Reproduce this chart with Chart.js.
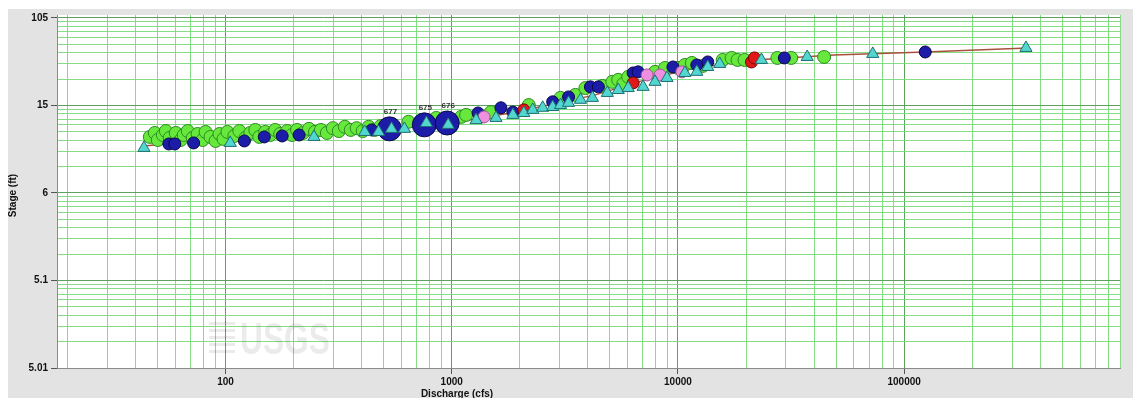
<!DOCTYPE html>
<html>
<head>
<meta charset="utf-8">
<script src="https://cdn.jsdelivr.net/npm/chart.js@4.4.1/dist/chart.umd.min.js"></script>
<style>
  html, body { margin: 0; padding: 0; background: #fff; }
  canvas { display: block; }
</style>
</head>
<body>
<canvas id="rating" width="1133" height="398"></canvas>
<script>
// stage axis is log of (stage - offset)
const STAGE_OFFSET = 5;

// [discharge (cfs), stage (ft)]
const greenMeas = [
    [46.3, 9.37], [48.7, 9.85], [50.2, 9.03], [52.9, 9.60], [54.5, 10.1], [56.7, 9.25],
    [60.3, 9.85], [63.4, 9.03], [65.4, 9.60], [68.1, 10.1], [71.6, 9.25], [75.3, 9.72],
    [79.2, 9.03], [81.7, 9.98], [85.9, 9.37], [90.4, 8.93], [94.1, 9.72], [98.0, 9.14],
    [102, 9.98], [109.5, 9.48], [115.2, 10.1], [122.4, 9.25], [128.8, 9.85], [135.5, 10.25],
    [141.1, 9.37], [149.9, 9.98], [157.7, 9.60], [165.9, 10.25], [174.5, 9.72], [187.3, 10.1],
    [197.0, 9.60], [207.3, 10.25], [220.3, 9.85], [234.0, 10.4], [248.6, 9.98], [264.2, 10.25],
    [280.7, 9.85], [298.4, 10.5], [317.0, 10.1], [336.9, 10.7], [357.9, 10.25], [380.3, 10.5],
    [404.2, 10.1], [429.5, 10.7], [456.4, 10.25], [485, 10.8], [644, 11.5], [855, 12.2],
    [1101, 12.4], [1158, 12.8], [1492, 13.4], [2191, 15.1], [3029, 17.2], [3525, 18.2],
    [3901, 20.8], [4635, 21.7], [5127, 23.6], [5448, 24.6], [5731, 22.6], [6029, 26.2],
    [7923, 29.2], [8768, 31.8], [10000, 31.8], [10735, 34.0], [11522, 35.6], [12880, 33.3],
    [15770, 38.1], [17280, 39.9], [18350, 38.1], [19700, 38.1], [27520, 39.9], [31700, 39.9],
    [44290, 40.8]
];
const blueMeas = [
    [56.2, 8.63], [59.7, 8.63], [72.3, 8.73], [121.2, 8.93], [148.4, 9.37], [178.1, 9.48],
    [211.5, 9.60], [442.8, 10.25], [1308, 13.2], [1651, 14.4], [1864, 13.4], [2795, 16.0],
    [3285, 17.5], [4104, 21.3], [4450, 21.3], [6341, 28.5], [6671, 29.2], [9506, 32.5],
    [12120, 34.0], [13550, 36.4], [29540, 39.9], [124000, 45.8]
];
const cyanMeas = [
    [43.6, 8.27], [105, 8.73], [246, 9.37], [412.5, 9.98], [475, 9.98], [542, 10.4],
    [618, 10.4], [773, 11.3], [965, 11.0], [1282, 11.8], [1570, 12.2], [1864, 12.8],
    [2084, 13.2], [2281, 13.9], [2525, 14.4], [2795, 14.6], [3029, 15.1], [3285, 15.7],
    [3709, 16.6], [4188, 17.2], [4875, 18.9], [5448, 20.0], [6029, 20.8], [7017, 21.3],
    [7923, 23.6], [8946, 25.6], [10735, 28.5], [12120, 29.2], [13550, 32.5], [15300, 34.8],
    [23400, 38.1], [37280, 40.8], [72690, 43.8], [345500, 50.4]
];
const pinkMeas = [[1390, 12.4], [7307, 27.3], [8334, 27.3], [10414, 29.2]];
const redMeas = [[2084, 13.9], [6341, 23.1], [21150, 36.4], [21800, 39.9]];
const bigMeas = [[531, 10.4], [757, 11.0], [955, 11.3]];
const bigLabels = ['677', '675', '676'];
const ratingCurve = [
    [43.6, 8.44], [102, 9.25], [207, 9.72], [466, 10.25], [946, 11.15], [1923, 13.4],
    [4315, 18.2], [7160, 24.6], [11880, 31.8], [21800, 38.1], [49000, 42.8],
    [124000, 45.8], [352000, 50.4]
];

const xTickLabels = ['100', '1000', '10000', '100000'];
const yTickLabels = ['5.01', '5.1', '6', '15', '105'];

const toPoint = ([q, s]) => ({ x: q, y: s - STAGE_OFFSET });

function isDecade(v) {
    const l = Math.log10(v);
    return Math.abs(l - Math.round(l)) < 1e-6;
}

function logGridTicks(min, max) {
    const out = [];
    for (let e = Math.floor(Math.log10(min)); e <= Math.ceil(Math.log10(max)); e++) {
        for (let k = 1; k <= 9; k++) {
            const v = k * Math.pow(10, e);
            if (v >= min * 0.999 && v <= max * 1.001) out.push({ value: v });
        }
    }
    return out;
}

function labelFor(v, labels, offset) {
    const hit = labels.find(s => Math.abs(Math.log10(Number(s) - offset) - Math.log10(v)) < 1e-6);
    return hit || '';
}

const gridColor = ctx => (ctx.tick && isDecade(ctx.tick.value)) ? 'rgba(85,155,85,0.95)' : 'rgba(120,218,120,0.9)';

const bigLabelPlugin = {
    id: 'bigLabels',
    afterDatasetsDraw(chart) {
        const meta = chart.getDatasetMeta(5);
        const c = chart.ctx;
        c.save();
        c.font = 'bold 8px "Liberation Sans", Arial, sans-serif';
        c.fillStyle = '#333';
        c.textAlign = 'center';
        meta.data.forEach((el, i) => c.fillText(bigLabels[i], el.x + 1, el.y - 15));
        c.restore();
    }
};

const decorPlugin = {
    id: 'decor',
    beforeDraw(chart) {
        const c = chart.ctx, a = chart.chartArea;
        c.save();
        c.fillStyle = '#ffffff';
        c.fillRect(0, 0, chart.width, chart.height);
        c.fillStyle = '#e3e3e3';
        c.fillRect(8, 9, chart.width - 8, chart.height - 9);
        c.fillStyle = '#ffffff';
        c.fillRect(a.left, a.top, a.right - a.left, a.bottom - a.top);
        c.restore();
    },
    beforeDatasetsDraw(chart) {
        const c = chart.ctx, a = chart.chartArea;
        // faint watermark
        c.save();
        c.fillStyle = 'rgba(0,0,0,0.08)';
        for (let i = 0; i < 5; i++) c.fillRect(a.left + 152, a.bottom - 46 + i * 7, 26, 3);
        c.translate(a.left + 183, a.bottom - 14);
        c.scale(0.72, 1);
        c.font = 'bold 44px "Liberation Sans", Arial, sans-serif';
        c.fillText('USGS', 0, 0);
        c.restore();
    },
    afterDraw(chart) {
        const c = chart.ctx, a = chart.chartArea;
        c.save();
        c.fillStyle = '#111';
        c.font = 'bold 10px "Liberation Sans", Arial, sans-serif';
        c.textAlign = 'center';
        c.textBaseline = 'top';
        c.fillText('Discharge (cfs)', a.left + 400, 389);
        c.translate(13, (a.top + a.bottom) / 2 + 4);
        c.rotate(-Math.PI / 2);
        c.textBaseline = 'middle';
        c.fillText('Stage (ft)', 0, 0);
        c.restore();
    }
};

const circle = (data, fill, border, r, order) => ({
    data: data.map(toPoint),
    pointStyle: 'circle',
    pointRadius: r,
    backgroundColor: fill,
    borderColor: border,
    borderWidth: 1,
    showLine: false,
    order: order
});

new Chart(document.getElementById('rating'), {
    type: 'scatter',
    data: {
        datasets: [
            {
                data: cyanMeas.map(toPoint),
                pointStyle: 'triangle',
                pointRadius: 7,
                backgroundColor: '#52d6d0',
                borderColor: '#1f6f70',
                borderWidth: 1,
                order: 1
            },
            circle(redMeas, '#e01818', '#7a0000', 6, 2),
            circle(pinkMeas, '#f08ee0', '#9a5a94', 6, 3),
            circle(blueMeas, '#1c1ca8', '#08084a', 6, 4),
            circle(greenMeas, '#66e83c', '#2e8a22', 6.5, 6),
            circle(bigMeas, '#1c1ca8', '#08084a', 12, 5),
            {
                type: 'line',
                data: ratingCurve.map(toPoint),
                borderColor: '#a8503c',
                borderWidth: 1.5,
                pointRadius: 0,
                fill: false,
                order: 7
            }
        ]
    },
    options: {
        responsive: false,
        animation: false,
        devicePixelRatio: 1,
        layout: { padding: { top: 15, right: 8, left: 0, bottom: 0 } },
        plugins: {
            legend: { display: false },
            tooltip: { enabled: false }
        },
        scales: {
            x: {
                type: 'logarithmic',
                min: 18,
                max: 900000,
                afterBuildTicks: scale => { scale.ticks = logGridTicks(18, 900000); },
                afterFit: scale => { scale.height = 30; },
                border: { display: true, color: '#8a8a8a' },
                grid: {
                    color: gridColor,
                    lineWidth: 1,
                    tickLength: 6,
                    tickColor: ctx => (ctx.tick && isDecade(ctx.tick.value)) ? '#555' : 'rgba(0,0,0,0)'
                },
                ticks: {
                    autoSkip: false,
                    maxRotation: 0,
                    padding: 2,
                    color: '#111',
                    font: { family: '"Liberation Sans", Arial, sans-serif', size: 10, weight: 'bold' },
                    callback: v => labelFor(v, xTickLabels, 0)
                }
            },
            y: {
                type: 'logarithmic',
                min: 0.01,
                max: 108,
                afterBuildTicks: scale => { scale.ticks = logGridTicks(0.01, 108); },
                afterFit: scale => { scale.width = 57; },
                border: { display: true, color: '#8a8a8a' },
                grid: {
                    color: gridColor,
                    lineWidth: 1,
                    tickLength: 6,
                    tickColor: ctx => (ctx.tick && isDecade(ctx.tick.value)) ? '#555' : 'rgba(0,0,0,0)'
                },
                ticks: {
                    autoSkip: false,
                    padding: 3,
                    color: '#111',
                    font: { family: '"Liberation Sans", Arial, sans-serif', size: 10, weight: 'bold' },
                    callback: v => labelFor(v, yTickLabels, STAGE_OFFSET)
                }
            }
        }
    },
    plugins: [decorPlugin, bigLabelPlugin]
});
</script>
</body>
</html>
